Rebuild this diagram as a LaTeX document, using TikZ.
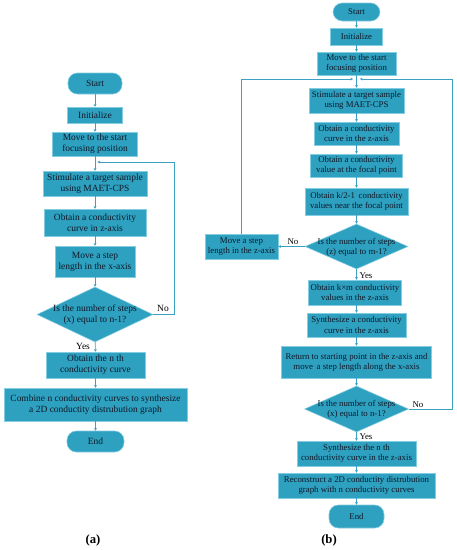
\documentclass[tikz,border=0pt]{standalone}
\usepackage{fontspec}
\setmainfont{Liberation Serif}
\usetikzlibrary{shapes.geometric,arrows.meta}
\definecolor{boxfill}{RGB}{46,160,192}
\definecolor{boxline}{RGB}{130,205,225}
\definecolor{linecol}{RGB}{60,160,195}
\definecolor{txt}{RGB}{15,25,40}
\tikzset{
  box/.style={rectangle, fill=boxfill, draw=boxline, line width=0.4pt, inner sep=0pt, align=center, text=txt},
  term/.style={box, rounded corners=7pt},
  dec/.style={diamond, fill=boxfill, draw=boxline, line width=0.4pt, inner sep=0pt, aspect=2},
  fa/.style={font=\fontsize{7.1}{8.2}\selectfont},
  fb/.style={font=\fontsize{6.6}{7.6}\selectfont},
  arr/.style={draw=linecol, line width=0.45pt, -{Stealth[length=2pt,width=2.2pt]}},
  lab/.style={text=black, inner sep=0pt},
}
\begin{document}
\begin{tikzpicture}[x=0.75pt,y=-0.75pt]
\useasboundingbox (0,0) rectangle (457,550);
% ---------- (a) ----------
\node[term,fa,minimum width=40.5pt,minimum height=15.75pt] (StartA) at (95,83.5) {Start};
\node[box,fa,minimum width=41.25pt,minimum height=12pt] (InitA) at (95,115) {Initialize};
\node[box,fa,minimum width=63.75pt,minimum height=18pt] (MoveA) at (95,144) {Move to the start\\focusing position};
\node[box,fa,minimum width=78pt,minimum height=18.75pt] (StimA) at (95,183.5) {Stimulate a target sample\\using MAET-CPS};
\node[box,fa,minimum width=76.5pt,minimum height=20.25pt] (ObtA) at (95,222.5) {Obtain a conductivity\\curve in z-axis};
\node[box,fa,minimum width=60pt,minimum height=23.25pt] (StepA) at (95,261.5) {Move a step\\length in the x-axis};
\node[dec,minimum width=87pt,minimum height=41.25pt] (DecA) at (95,314.5) {};
\node[fa,align=center,text=txt,inner sep=0pt] (DecAt) at (95,315) {Is the number of steps\\(x) equal to n-1?};
\node[box,fa,minimum width=74.25pt,minimum height=19.5pt] (NthA) at (95.5,365) {Obtain the n th\\conductivity curve};
\node[box,fa,minimum width=137.25pt,minimum height=24.75pt] (CombA) at (95.5,404.5) {Combine n conductivity curves to synthesize\\a 2D conductity distrubution graph};
\node[term,fa,minimum width=42.75pt,minimum height=15.75pt] (EndA) at (95.5,441.5) {End};
\node[lab,fa] (NoA) at (163,308) {No};
\node[lab,fa] (YesA) at (83,346.5) {Yes};
\node[lab,font=\fontsize{9.5}{10}\selectfont\bfseries] (capA) at (93,540) {(a)};
\coordinate (cA) at (174,162);
\coordinate (LA) at (97.5,162);
\draw[arr] (StartA) -- (InitA);
\draw[arr] (InitA) -- (MoveA);
\draw[arr] (MoveA) -- (StimA);
\draw[arr] (StimA) -- (ObtA);
\draw[arr] (ObtA) -- (StepA);
\draw[arr] (StepA) -- (DecA);
\draw[arr] (DecA) -- (NthA);
\draw[arr] (NthA) -- (CombA);
\draw[arr] (CombA) -- (EndA);
\draw[arr] (DecA.east) -| (cA) -- (LA);
% ---------- (b) ----------
\node[term,fb,minimum width=35.25pt,minimum height=13.5pt] (StartB) at (356.5,12) {Start};
\node[box,fb,minimum width=39pt,minimum height=12.75pt] (InitB) at (356.5,36.5) {Initialize};
\node[box,fb,minimum width=59.25pt,minimum height=17.25pt] (MoveB) at (356.5,63.5) {Move to the start\\focusing position};
\node[box,fb,minimum width=71.25pt,minimum height=18.75pt] (StimB) at (356.5,100.5) {Stimulate a target sample\\using MAET-CPS};
\node[box,fb,minimum width=63.75pt,minimum height=17.25pt] (ObtB) at (356.5,133.5) {Obtain a conductivity\\curve in the z-axis};
\node[box,fb,minimum width=69pt,minimum height=17.25pt] (ValB) at (356.5,165.5) {Obtain a conductivity\\value at the focal point};
\node[box,fb,minimum width=77.25pt,minimum height=20.25pt] (KB) at (356.5,201.5) {Obtain k/2-1\, conductivity\\values near the focal point};
\node[dec,minimum width=77.25pt,minimum height=33.75pt] (DecZ) at (356.5,246.5) {};
\node[fb,align=center,text=txt,inner sep=0pt] (DecZt) at (356.5,247) {Is the number of steps\\(z) equal to m-1?};
\node[box,fb,minimum width=54.75pt,minimum height=18.75pt] (StepZ) at (241.5,246.5) {Move a step\\length in the z-axis};
\node[box,fb,minimum width=69.75pt,minimum height=18.75pt] (KmB) at (355,292.5) {Obtain k\texttimes m conductivity\\values in the z-axis};
\node[box,fb,minimum width=74.25pt,minimum height=18pt] (SynB) at (356.5,325) {Synthesize a conductivity\\curve in the z-axis};
\node[box,fb,minimum width=112.5pt,minimum height=24pt] (RetB) at (356.5,362) {Return to starting point in the z-axis and\\move\, a step length along the x-axis};
\node[dec,minimum width=78pt,minimum height=34.5pt] (DecX) at (356.5,409) {};
\node[fb,align=center,text=txt,inner sep=0pt] (DecXt) at (356.5,409.5) {Is the number of steps\\(x) equal to n-1?};
\node[box,fb,minimum width=89.25pt,minimum height=18.75pt] (NthB) at (356.5,453.5) {Synthesize the n th\\conductivity curve in the z-axis};
\node[box,fb,minimum width=117.75pt,minimum height=18.75pt] (RecB) at (356.5,485.5) {Reconstruct a 2D conductity distrubution\\graph with n conductivity curves};
\node[term,fb,minimum width=41.25pt,minimum height=17.25pt] (EndB) at (356.5,516.5) {End};
\node[lab,fb] (NoZ) at (293,242) {No};
\node[lab,fb] (YesZ) at (366,276) {Yes};
\node[lab,fb] (NoX) at (418,405) {No};
\node[lab,fb] (YesX) at (366,437) {Yes};
\node[lab,font=\fontsize{9.5}{10}\selectfont\bfseries] (capB) at (329,540) {(b)};
\coordinate (cBL) at (241.5,79);
\coordinate (LB) at (353,79);
\coordinate (cBR) at (452,79);
\coordinate (RB) at (360,79);
\draw[arr] (StartB) -- (InitB);
\draw[arr] (InitB) -- (MoveB);
\draw[arr] (MoveB) -- (StimB);
\draw[arr] (StimB) -- (ObtB);
\draw[arr] (ObtB) -- (ValB);
\draw[arr] (ValB) -- (KB);
\draw[arr] (KB) -- (DecZ);
\draw[arr] (DecZ) -- (KmB.north -| DecZ.south);
\draw[arr] (KmB.south -| SynB.north) -- (SynB);
\draw[arr] (SynB) -- (RetB);
\draw[arr] (RetB) -- (DecX);
\draw[arr] (DecX) -- (NthB);
\draw[arr] (NthB) -- (RecB);
\draw[arr] (RecB) -- (EndB);
\draw[arr] (DecZ.west) -- (StepZ.east);
\draw[arr] (StepZ.north) -- (cBL) -- (LB);
\draw[arr] (DecX.east) -| (cBR) -- (RB);
\end{tikzpicture}
\end{document}
